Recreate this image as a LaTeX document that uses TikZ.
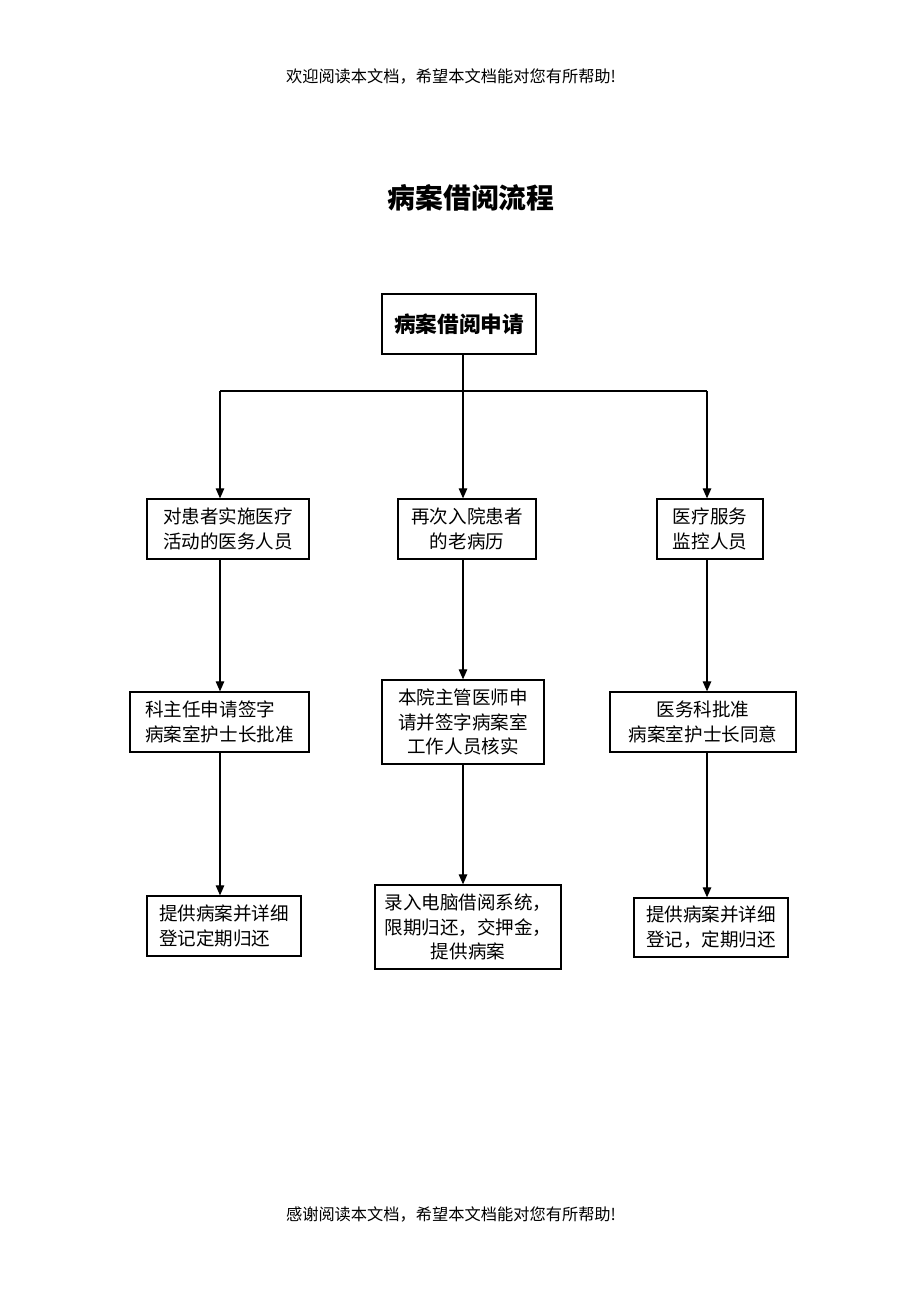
\documentclass[tikz,border=0pt]{standalone}
\usepackage{fontspec}
\setmainfont{Noto Sans CJK SC}
\usetikzlibrary{arrows.meta}
\begin{document}
\begin{tikzpicture}[x=0.6468pt,y=-0.6468pt,
  box/.style={draw,line width=0.8pt,inner sep=0pt,font=\fontsize{12}{16}\selectfont,align=center},
  wh/.style 2 args={minimum width=#1*0.6468pt,minimum height=#2*0.6468pt},
  conn/.style={line width=0.8pt},
  arr/.style={line width=0.8pt,-{Triangle[width=5.5pt,length=6.5pt]}},
  plain/.style={inner sep=0pt}]
\useasboundingbox (0,0) rectangle (920,1302);
\fill[white] (0,0) rectangle (920,1302);
\node[plain,font=\fontsize{10.5}{12}\selectfont] (hdr) at (451,76) {欢迎阅读本文档，希望本文档能对您有所帮助!};
\node[plain,font=\fontsize{10.5}{12}\selectfont] (ftr) at (451,1214) {感谢阅读本文档，希望本文档能对您有所帮助!};
\node[plain,font=\fontsize{18}{20}\selectfont\bfseries] (title) at (471,198) {病案借阅流程};

\node[box,wh={154}{60},font=\fontsize{14}{16}\selectfont\bfseries] (a) at (459,324) {病案借阅申请};

\node[box,wh={162}{60}] (b1) at (228,529) {对患者实施医疗\\活动的医务人员};
\node[box,wh={138}{60}] (b2) at (467,529) {再次入院患者\\的老病历};
\node[box,wh={106}{60}] (b3) at (710,529) {医疗服务\\监控人员};

\node[box,wh={179}{60},align=left] (c1) at (219.5,722) {科主任申请签字\\病案室护士长批准};
\node[box,wh={162}{84}] (c2) at (463,722) {本院主管医师申\\请并签字病案室\\工作人员核实};
\node[box,wh={186}{60}] (c3) at (703,722) {医务科批准\\病案室护士长同意};

\node[box,wh={154}{60},align=left] (d1) at (224,926) {提供病案并详细\\登记定期归还};
\node[box,wh={186}{84}] (d2) at (468,927) {录入电脑借阅系统，\\限期归还，交押金，\\提供病案};
\node[box,wh={154}{59}] (d3) at (711,927.5) {提供病案并详细\\登记，定期归还};

\coordinate (j) at (463,391);
\coordinate (jl) at (220,391);
\coordinate (jr) at (707,391);
\draw[conn] (a.south -| j) -- (j);
\draw[conn] (jl) -- (jr);
\draw[arr] (jl) -- (b1.north -| jl);
\draw[arr] (j) -- (b2.north -| j);
\draw[arr] (jr) -- (b3.north -| jr);

\draw[arr] (b1.south -| jl) -- (c1.north -| jl);
\draw[arr] (b2.south -| j) -- (c2.north -| j);
\draw[arr] (b3.south -| jr) -- (c3.north -| jr);

\draw[arr] (c1.south -| jl) -- (d1.north -| jl);
\draw[arr] (c2.south -| j) -- (d2.north -| j);
\draw[arr] (c3.south -| jr) -- (d3.north -| jr);
\end{tikzpicture}
\end{document}
